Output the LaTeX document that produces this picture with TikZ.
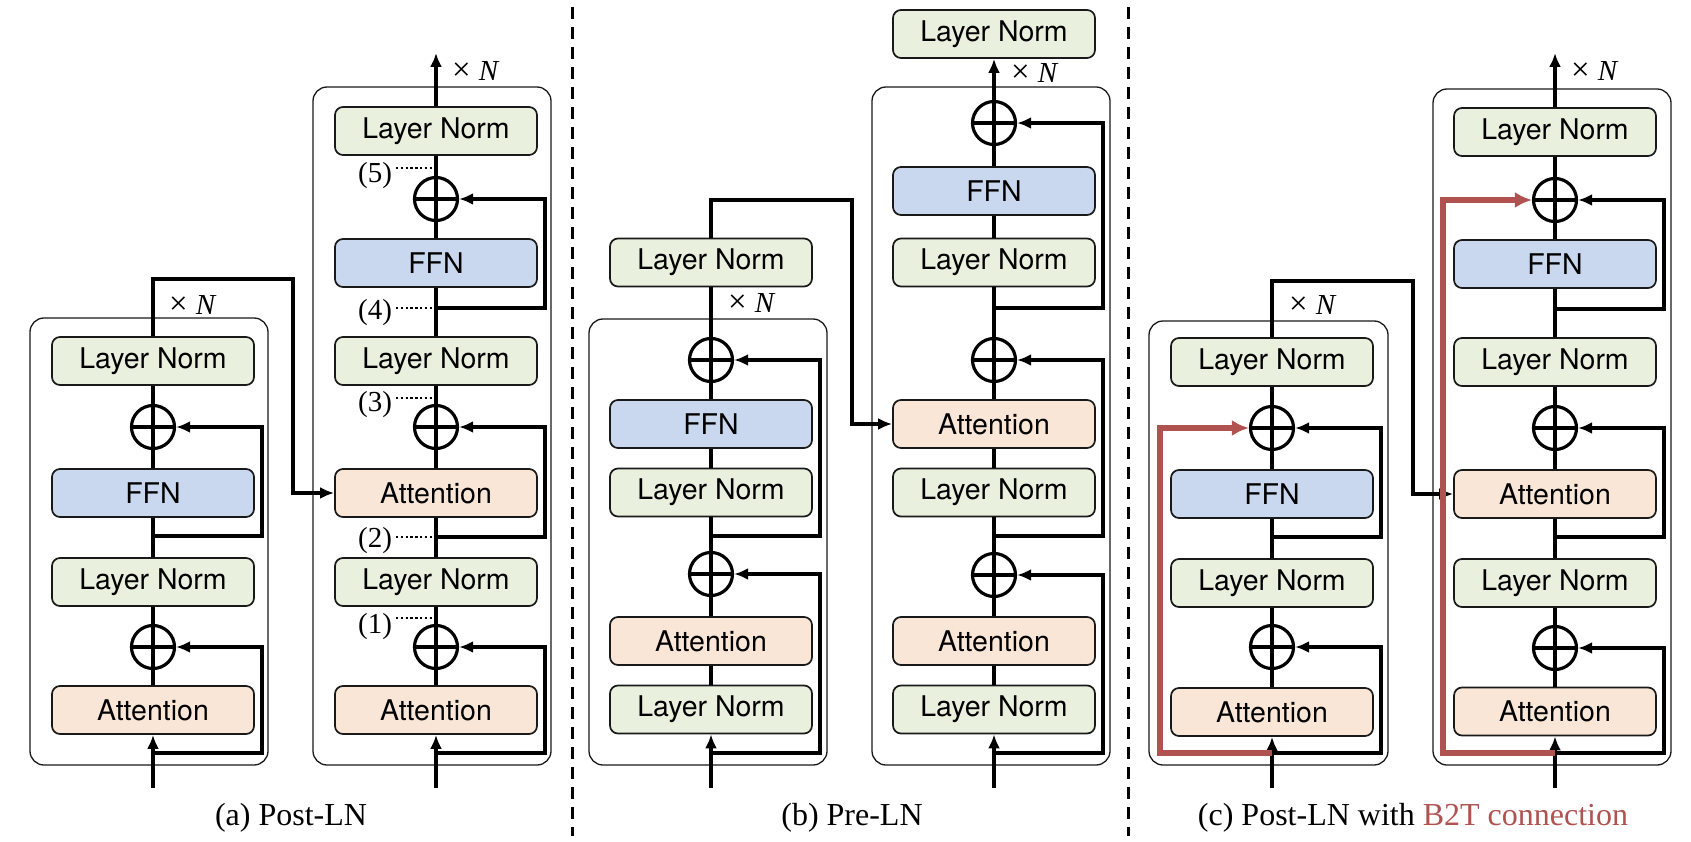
\documentclass[tikz,border=0pt]{standalone}
\usepackage{fontspec}
\setmainfont{Liberation Serif}
\newfontfamily\hv{TeX Gyre Heros}
\usetikzlibrary{arrows.meta}
\definecolor{lnc}{RGB}{234,240,222}
\definecolor{ffnc}{RGB}{201,216,238}
\definecolor{attc}{RGB}{249,230,215}
\definecolor{btred}{RGB}{176,82,80}
\definecolor{bord}{RGB}{25,25,25}
\tikzset{
  blk/.style={draw=bord, line width=1.7pt, rounded corners=8pt, minimum width=202pt, minimum height=48pt, inner sep=0pt, font=\hv\fontsize{28.5}{30}\selectfont},
  ln/.style={blk, fill=lnc},
  ffn/.style={blk, fill=ffnc},
  attn/.style={blk, fill=attc},
  plus/.style={circle, draw, line width=3.2pt, minimum size=43pt, inner sep=0pt,
    path picture={\draw[line width=3.2pt] (path picture bounding box.west) -- (path picture bounding box.east) (path picture bounding box.north) -- (path picture bounding box.south);}},
  wire/.style={line width=3.2pt},
  arr/.style={wire, -{Latex[length=14pt,width=12pt]}},
  redarr/.style={line width=5.2pt, draw=btred, -{Latex[length=17pt,width=16pt]}},
  outerbox/.style={draw=bord, line width=1.3pt, rounded corners=14pt},
  xn/.style={anchor=west, inner sep=0pt, font=\fontsize{29}{31}\selectfont},
  num/.style={inner sep=0pt, font=\fontsize{29}{31}\selectfont},
  dots/.style={line width=2.6pt, dash pattern=on 2.4pt off 2.4pt},
  sep/.style={line width=3pt, dash pattern=on 12pt off 8pt},
  captext/.style={anchor=base, inner sep=0pt, font=\fontsize{32}{34}\selectfont}
}
\newcommand{\timesN}{{\fontsize{33}{33}\selectfont ×}\hspace{8pt}\textit{N}}
\begin{document}
\begin{tikzpicture}[x=1pt,y=-1pt]
\useasboundingbox (0,0) rectangle (1691,842);

% ---------- separators ----------
\draw[sep] (572,7) -- (572,836);
\draw[sep] (1128,7) -- (1128,836);

% ---------- outer boxes ----------
\draw[outerbox] (30,318) rectangle (268,765);
\draw[outerbox] (313,87) rectangle (551,765);
\draw[outerbox] (589,319) rectangle (827,765);
\draw[outerbox] (872,87) rectangle (1110,765);
\draw[outerbox] (1149,321) rectangle (1388,765);
\draw[outerbox] (1433,89) rectangle (1671,765);

% =============== (a) Post-LN ===============
\node[attn] (aLat) at (153,710) {Attention};
\node[plus] (aLp1) at (153,647) {};
\node[ln]   (aLn1) at (153,582) {Layer Norm};
\node[ffn]  (aLf)  at (153,493) {FFN};
\node[plus] (aLp2) at (153,427) {};
\node[ln]   (aLn2) at (153,361) {Layer Norm};
\coordinate (aLin) at (153,788);
\coordinate (aLb1) at (153,753);
\coordinate (aLb2) at (153,536);
\coordinate (aLtop) at (153,279);
\coordinate (aLc) at (293,279);

\node[attn] (aRat1) at (436,710) {Attention};
\node[plus] (aRp1)  at (436,647) {};
\node[ln]   (aRn1)  at (436,582) {Layer Norm};
\node[attn] (aRat2) at (436,493) {Attention};
\node[plus] (aRp2)  at (436,427) {};
\node[ln]   (aRn2)  at (436,361) {Layer Norm};
\node[ffn]  (aRf)   at (436,263) {FFN};
\node[plus] (aRp3)  at (436,199) {};
\node[ln]   (aRn3)  at (436,131) {Layer Norm};
\coordinate (aRin) at (436,788);
\coordinate (aRb1) at (436,753);
\coordinate (aRb2) at (436,537);
\coordinate (aRb3) at (436,308);
\coordinate (aRout) at (436,53);

\draw[arr] (aLin) -- (aLat.south);
\draw[wire] (aLat.north) -- (aLp1.south) (aLp1.north) -- (aLn1.south) (aLn1.north) -- (aLf.south) (aLf.north) -- (aLp2.south) (aLp2.north) -- (aLn2.south);
\draw[arr] (aLb1) -- ++(109,0) |- (aLp1.east);
\draw[arr] (aLb2) -- ++(109,0) |- (aLp2.east);
\draw[arr] (aLn2.north) -- (aLtop) -- (aLc) |- (aRat2.west);

\draw[arr] (aRin) -- (aRat1.south);
\draw[wire] (aRat1.north) -- (aRp1.south) (aRp1.north) -- (aRn1.south) (aRn1.north) -- (aRat2.south) (aRat2.north) -- (aRp2.south) (aRp2.north) -- (aRn2.south) (aRn2.north) -- (aRf.south) (aRf.north) -- (aRp3.south) (aRp3.north) -- (aRn3.south);
\draw[arr] (aRn3.north) -- (aRout);
\draw[arr] (aRb1) -- ++(109,0) |- (aRp1.east);
\draw[arr] (aRb2) -- ++(109,0) |- (aRp2.east);
\draw[arr] (aRb3) -- ++(109,0) |- (aRp3.east);

\node[xn] (aLx) at (169,305) {\timesN};
\node[xn] (aRx) at (452,71) {\timesN};

\node[num] (n5) at (375,176) {(5)};
\node[num] (n4) at (375,313) {(4)};
\node[num] (n3) at (375,405) {(3)};
\node[num] (n2) at (375,541) {(2)};
\node[num] (n1) at (375,627) {(1)};
\coordinate (d5a) at (396,168); \coordinate (d5b) at (434,168);
\coordinate (d4a) at (396,308); \coordinate (d4b) at (434,308);
\coordinate (d3a) at (396,398); \coordinate (d3b) at (434,398);
\coordinate (d2a) at (396,537); \coordinate (d2b) at (434,537);
\coordinate (d1a) at (396,618); \coordinate (d1b) at (434,618);
\draw[dots] (d5a) -- (d5b) (d4a) -- (d4b) (d3a) -- (d3b) (d2a) -- (d2b) (d1a) -- (d1b);

\node[captext] (capa) at (291,825) {(a) Post-LN};

% =============== (b) Pre-LN ===============
\node[ln]   (bLn1) at (711,709.5) {Layer Norm};
\node[attn] (bLat) at (711,641) {Attention};
\node[plus] (bLp1) at (711,574) {};
\node[ln]   (bLn2) at (711,492.5) {Layer Norm};
\node[ffn]  (bLf)  at (711,424) {FFN};
\node[plus] (bLp2) at (711,360) {};
\node[ln]   (bLn3) at (711,262.5) {Layer Norm};
\coordinate (bLin) at (711,788);
\coordinate (bLb1) at (711,753);
\coordinate (bLb2) at (711,536);
\coordinate (bLtop) at (711,200);
\coordinate (bLc) at (852,200);

\node[ln]   (bRn1) at (994,709.5) {Layer Norm};
\node[attn] (bRat1) at (994,641) {Attention};
\node[plus] (bRp1) at (994,575) {};
\node[ln]   (bRn2) at (994,492.5) {Layer Norm};
\node[attn] (bRat2) at (994,424) {Attention};
\node[plus] (bRp2) at (994,360) {};
\node[ln]   (bRn3) at (994,262.5) {Layer Norm};
\node[ffn]  (bRf)  at (994,191) {FFN};
\node[plus] (bRp3) at (994,123) {};
\node[ln]   (bRn4) at (994,34) {Layer Norm};
\coordinate (bRin) at (994,788);
\coordinate (bRb1) at (994,753);
\coordinate (bRb2) at (994,536);
\coordinate (bRb3) at (994,308);

\draw[arr] (bLin) -- (bLn1.south);
\draw[wire] (bLn1.north) -- (bLat.south) (bLat.north) -- (bLp1.south) (bLp1.north) -- (bLn2.south) (bLn2.north) -- (bLf.south) (bLf.north) -- (bLp2.south) (bLp2.north) -- (bLn3.south);
\draw[arr] (bLb1) -- ++(109,0) |- (bLp1.east);
\draw[arr] (bLb2) -- ++(109,0) |- (bLp2.east);
\draw[arr] (bLn3.north) -- (bLtop) -- (bLc) |- (bRat2.west);

\draw[arr] (bRin) -- (bRn1.south);
\draw[wire] (bRn1.north) -- (bRat1.south) (bRat1.north) -- (bRp1.south) (bRp1.north) -- (bRn2.south) (bRn2.north) -- (bRat2.south) (bRat2.north) -- (bRp2.south) (bRp2.north) -- (bRn3.south) (bRn3.north) -- (bRf.south) (bRf.north) -- (bRp3.south);
\draw[arr] (bRp3.north) -- (bRn4.south);
\draw[arr] (bRb1) -- ++(109,0) |- (bRp1.east);
\draw[arr] (bRb2) -- ++(109,0) |- (bRp2.east);
\draw[arr] (bRb3) -- ++(109,0) |- (bRp3.east);

\node[xn] (bLx) at (728,303) {\timesN};
\node[xn] (bRx) at (1011,73) {\timesN};

\node[captext] (capb) at (852,825) {(b) Pre-LN};

% =============== (c) Post-LN with B2T ===============
\node[attn] (cLat) at (1272,712) {Attention};
\node[plus] (cLp1) at (1272,647) {};
\node[ln]   (cLn1) at (1272,583) {Layer Norm};
\node[ffn]  (cLf)  at (1272,494) {FFN};
\node[plus] (cLp2) at (1272,428) {};
\node[ln]   (cLn2) at (1272,362) {Layer Norm};
\coordinate (cLin) at (1272,788);
\coordinate (cLb1) at (1272,753);
\coordinate (cLb2) at (1272,537);
\coordinate (cLtop) at (1272,281);
\coordinate (cLc) at (1413,281);

\node[attn] (cRat1) at (1555,711.5) {Attention};
\node[plus] (cRp1)  at (1555,648) {};
\node[ln]   (cRn1)  at (1555,583) {Layer Norm};
\node[attn] (cRat2) at (1555,494) {Attention};
\node[plus] (cRp2)  at (1555,428) {};
\node[ln]   (cRn2)  at (1555,362) {Layer Norm};
\node[ffn]  (cRf)   at (1555,264) {FFN};
\node[plus] (cRp3)  at (1555,200) {};
\node[ln]   (cRn3)  at (1555,132) {Layer Norm};
\coordinate (cRin) at (1555,788);
\coordinate (cRb1) at (1555,753);
\coordinate (cRb2) at (1555,537);
\coordinate (cRb3) at (1555,309);
\coordinate (cRout) at (1555,53);

\draw[arr] (cLin) -- (cLat.south);
\draw[wire] (cLat.north) -- (cLp1.south) (cLp1.north) -- (cLn1.south) (cLn1.north) -- (cLf.south) (cLf.north) -- (cLp2.south) (cLp2.north) -- (cLn2.south);
\draw[arr] (cLb1) -- ++(109,0) |- (cLp1.east);
\draw[arr] (cLb2) -- ++(109,0) |- (cLp2.east);
\draw[arr] (cLn2.north) -- (cLtop) -- (cLc) |- (cRat2.west);

\draw[arr] (cRin) -- (cRat1.south);
\draw[wire] (cRat1.north) -- (cRp1.south) (cRp1.north) -- (cRn1.south) (cRn1.north) -- (cRat2.south) (cRat2.north) -- (cRp2.south) (cRp2.north) -- (cRn2.south) (cRn2.north) -- (cRf.south) (cRf.north) -- (cRp3.south) (cRp3.north) -- (cRn3.south);
\draw[arr] (cRn3.north) -- (cRout);
\draw[arr] (cRb1) -- ++(109,0) |- (cRp1.east);
\draw[arr] (cRb2) -- ++(109,0) |- (cRp2.east);
\draw[arr] (cRb3) -- ++(109,0) |- (cRp3.east);

\draw[redarr] (cLb1) -- ++(-112,0) |- (cLp2.west);
\draw[redarr] (cRb1) -- ++(-112,0) |- (cRp3.west);

\node[xn] (cLx) at (1289,305) {\timesN};
\node[xn] (cRx) at (1571,71) {\timesN};

\node[captext] (capc) at (1413,825) {(c) Post-LN with \textcolor{btred}{B2T connection}};
\end{tikzpicture}
\end{document}
